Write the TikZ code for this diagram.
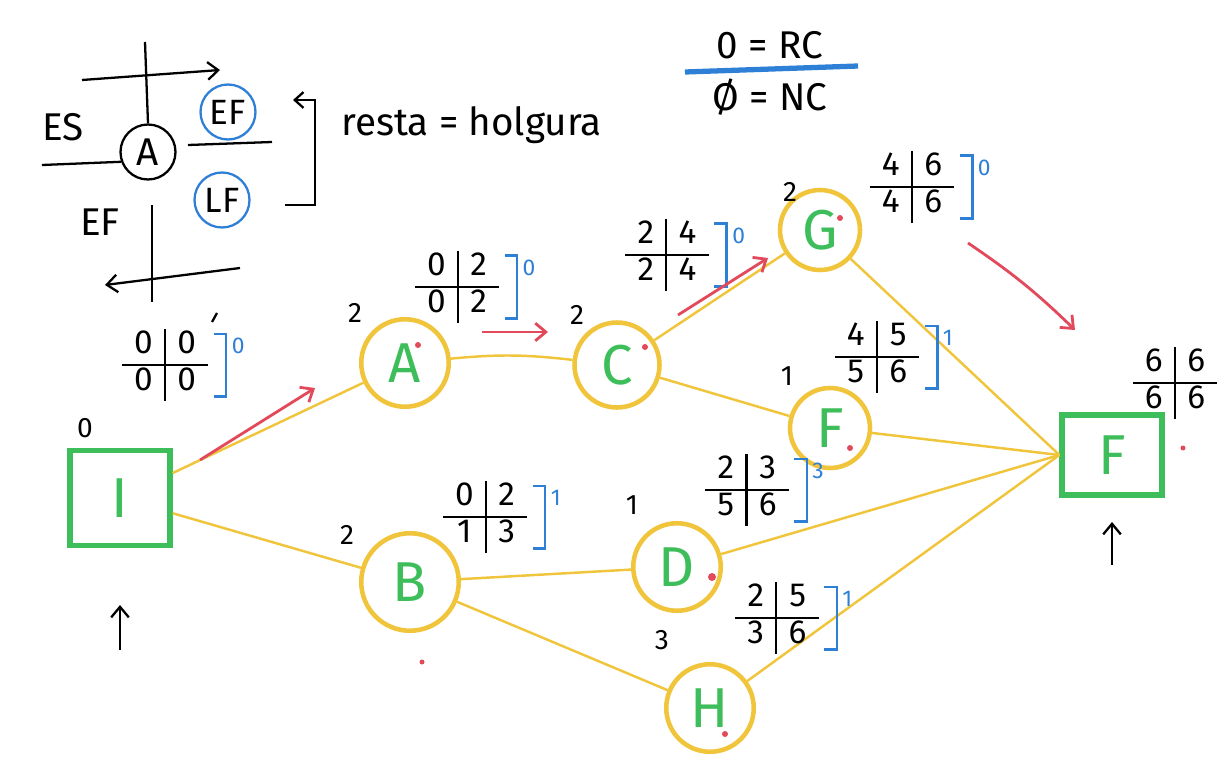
\documentclass[tikz,border=0pt]{standalone}
\usepackage{fontspec}
\setmainfont{Fira Sans}
\usetikzlibrary{positioning,arrows.meta,calc}
\definecolor{hlyellow}{HTML}{F0C53C}
\definecolor{hlgreen}{HTML}{3DBE5A}
\definecolor{hlred}{HTML}{E24A5C}
\definecolor{hlblue}{HTML}{2E7FD6}
\setlength{\arrayrulewidth}{1.2pt}
\setlength{\tabcolsep}{7pt}
\newcommand{\cross}[4]{\begin{tabular}{c|c}#1&#2\\\hline #3&#4\end{tabular}}
\newcommand{\slackbr}[2]{%
  \draw[brk] ([xshift=3pt,yshift=-3pt]#1.north east) -- ++(7pt,0) |- ([xshift=3pt,yshift=3pt]#1.south east);
  \node[slk,anchor=west] at ([xshift=13pt,yshift=-10pt]#1.north east) {#2};}

\begin{document}
\begin{tikzpicture}[x=0.02cm,y=-0.02cm,every node/.style={font=\fontsize{14}{16}\selectfont}]
      \tikzstyle{act}=[circle,draw=hlyellow,line width=2.6pt,minimum size=1.75cm,inner sep=0pt,
                       text=hlgreen,font=\fontsize{32}{34}\selectfont]
      \tikzstyle{term}=[rectangle,draw=hlgreen,line width=3pt,minimum width=2cm,minimum height=1.9cm,
                       text=hlgreen,font=\fontsize{32}{34}\selectfont]
      \tikzstyle{link}=[hlyellow,line width=1.4pt]
      \tikzstyle{flow}=[hlred,line width=1.6pt,-{Straight Barb[length=6pt,width=10pt]}]
      \tikzstyle{tbl}=[inner sep=0pt,font=\fontsize{19}{20}\selectfont]
      \tikzstyle{dur}=[font=\fontsize{16}{18}\selectfont]
      \tikzstyle{slk}=[text=hlblue,inner sep=0pt,font=\fontsize{13}{15}\selectfont]
      \tikzstyle{brk}=[hlblue,line width=1.4pt]
      \tikzstyle{pen}=[black,line width=1.3pt]
      \tikzstyle{legc}=[circle,draw,line width=1.3pt,minimum size=1.1cm,inner sep=0pt,font=\fontsize{22}{24}\selectfont]
      \tikzstyle{legb}=[circle,draw=hlblue,line width=1.3pt,minimum size=1.1cm,inner sep=0pt,font=\fontsize{20}{22}\selectfont]
      \tikzstyle{hand}=[font=\fontsize{22}{24}\selectfont]
      \useasboundingbox (0,0) rectangle (1224,764);
      % legend
      \node[legc] (la) at (148,152) {A};
      \node[hand] (les) at (63,127) {ES};
      \node[legb] (lef) at (228,112) {EF};
      \node[legb] (llf) at (222,200) {LF};
      \node[hand] (lef2) at (100,222) {EF};
      \node[hand,anchor=west] (resta) at (335,125) {resta = holgura};
      \coordinate (ta) at (82,80);  \coordinate (tb) at (220,70);
      \coordinate (va) at (145,42);
      \coordinate (lw) at (42,165);
      \coordinate (ua) at (188,145); \coordinate (ub) at (272,142);
      \coordinate (vb) at (152,205); \coordinate (vc) at (152,302);
      \coordinate (ba) at (240,268); \coordinate (bb) at (105,285);
      \coordinate (ka) at (285,205); \coordinate (kb) at (293,100);
      \draw[pen,-{Straight Barb[length=6pt,width=10pt]}] (ta) -- (tb);
      \draw[pen] (va) -- (la.north);
      \draw[pen] (lw) -- (la.200);
      \draw[pen] (ua) -- (ub);
      \draw[pen] (vb) -- (vc);
      \draw[pen,-{Straight Barb[length=6pt,width=10pt]}] (ba) -- (bb);
      \draw[pen,-{Straight Barb[length=5pt,width=9pt]}] (ka) -- (315,205) -- (315,100) -- (kb);
      \node[hand] (rc) at (770,45) {0 = RC};
      \node[hand] (nc) at (770,97) {Ø = NC};
      \draw[hlblue,line width=3pt] (685,72) -- (858,66);
      % network
      \node[term] (ini) at (120,498) {I};
      \node[act]  (a) at (405,363) {A};
      \node[act,minimum size=1.95cm] (b) at (410,582) {B};
      \node[act,minimum size=1.7cm]  (c) at (617,365) {C};
      \node[act,minimum size=1.6cm]  (g) at (820,230) {G};
      \node[act,minimum size=1.6cm]  (f) at (830,428) {F};
      \node[act]  (d) at (677,567) {D};
      \node[act]  (h) at (710,708) {H};
      \node[term,minimum height=1.6cm] (fin) at (1112,455) {F};
      \draw[link] (ini) -- (a);
      \draw[link] (ini) -- (b);
      \draw[link] (a) to[bend left=6] (c);
      \draw[link] (b) -- (d);
      \draw[link] (b) -- (h);
      \draw[link] (c) -- (g);
      \draw[link] (c) -- (f);
      \draw[link] (g) -- (fin.west);
      \draw[link] (f) -- (fin.west);
      \draw[link] (d) -- (fin.west);
      \draw[link] (h) -- (fin.west);
      % durations
      \node[dur] (ni) at (85,428) {0};
      \node[dur] (na) at (355,313) {2};
      \node[dur] (nc2) at (577,315) {2};
      \node[dur] (ng) at (790,192) {2};
      \node[dur] (nf) at (787,376) {1};
      \node[dur] (nd) at (632,505) {1};
      \node[dur] (nb) at (347,535) {2};
      \node[dur] (nh) at (662,640) {3};
      % ES|EF over LS|LF
      \node[tbl] (ti) at (165,365) {\cross{0}{0}{0}{0}};
      \node[tbl] (tA) at (457,287) {\cross{0}{2}{0}{2}};
      \node[tbl] (tC) at (667,255) {\cross{2}{4}{2}{4}};
      \node[tbl] (tG) at (912,187) {\cross{4}{6}{4}{6}};
      \node[tbl] (tF) at (877,357) {\cross{4}{5}{5}{6}};
      \node[tbl] (tD) at (747,490) {\cross{2}{3}{5}{6}};
      \node[tbl] (tB) at (485,517) {\cross{0}{2}{1}{3}};
      \node[tbl] (tH) at (777,618) {\cross{2}{5}{3}{6}};
      \node[tbl] (tfin) at (1175,383) {\cross{6}{6}{6}{6}};
      \slackbr{ti}{0}
      \slackbr{tA}{0}
      \slackbr{tC}{0}
      \slackbr{tG}{0}
      \slackbr{tF}{1}
      \slackbr{tD}{3}
      \slackbr{tB}{1}
      \slackbr{tH}{1}
      \draw[pen] (212,322) -- (217,313);
      % critical path arrows
      \coordinate (r1a) at (200,460); \coordinate (r1b) at (315,388);
      \coordinate (r2a) at (482,332); \coordinate (r2b) at (548,332);
      \coordinate (r3a) at (678,315); \coordinate (r3b) at (768,258);
      \coordinate (r4a) at (968,243); \coordinate (r4b) at (1075,330);
      \draw[flow] (r1a) -- (r1b);
      \draw[flow] (r2a) -- (r2b);
      \draw[flow] (r3a) -- (r3b);
      \draw[flow] (r4a) to[bend left=5] (r4b);
      % red dots
      \fill[hlred] (418,345) circle (3);
      \fill[hlred] (645,347) circle (3);
      \fill[hlred] (840,218) circle (3);
      \fill[hlred] (850,448) circle (3);
      \fill[hlred] (712,577) circle (4);
      \fill[hlred] (725,734) circle (3);
      \fill[hlred] (422,662) circle (2.5);
      \fill[hlred] (1183,448) circle (2.5);
      % start and end markers
      \coordinate (ma) at (120,650); \coordinate (mb) at (1112,565);
      \draw[pen,-{Straight Barb[length=6pt,width=10pt]}] (ma) -- (ini.south |- 0,605);
      \draw[pen,-{Straight Barb[length=6pt,width=10pt]}] (mb) -- (fin.south |- 0,522);
    \end{tikzpicture}
\end{document}
